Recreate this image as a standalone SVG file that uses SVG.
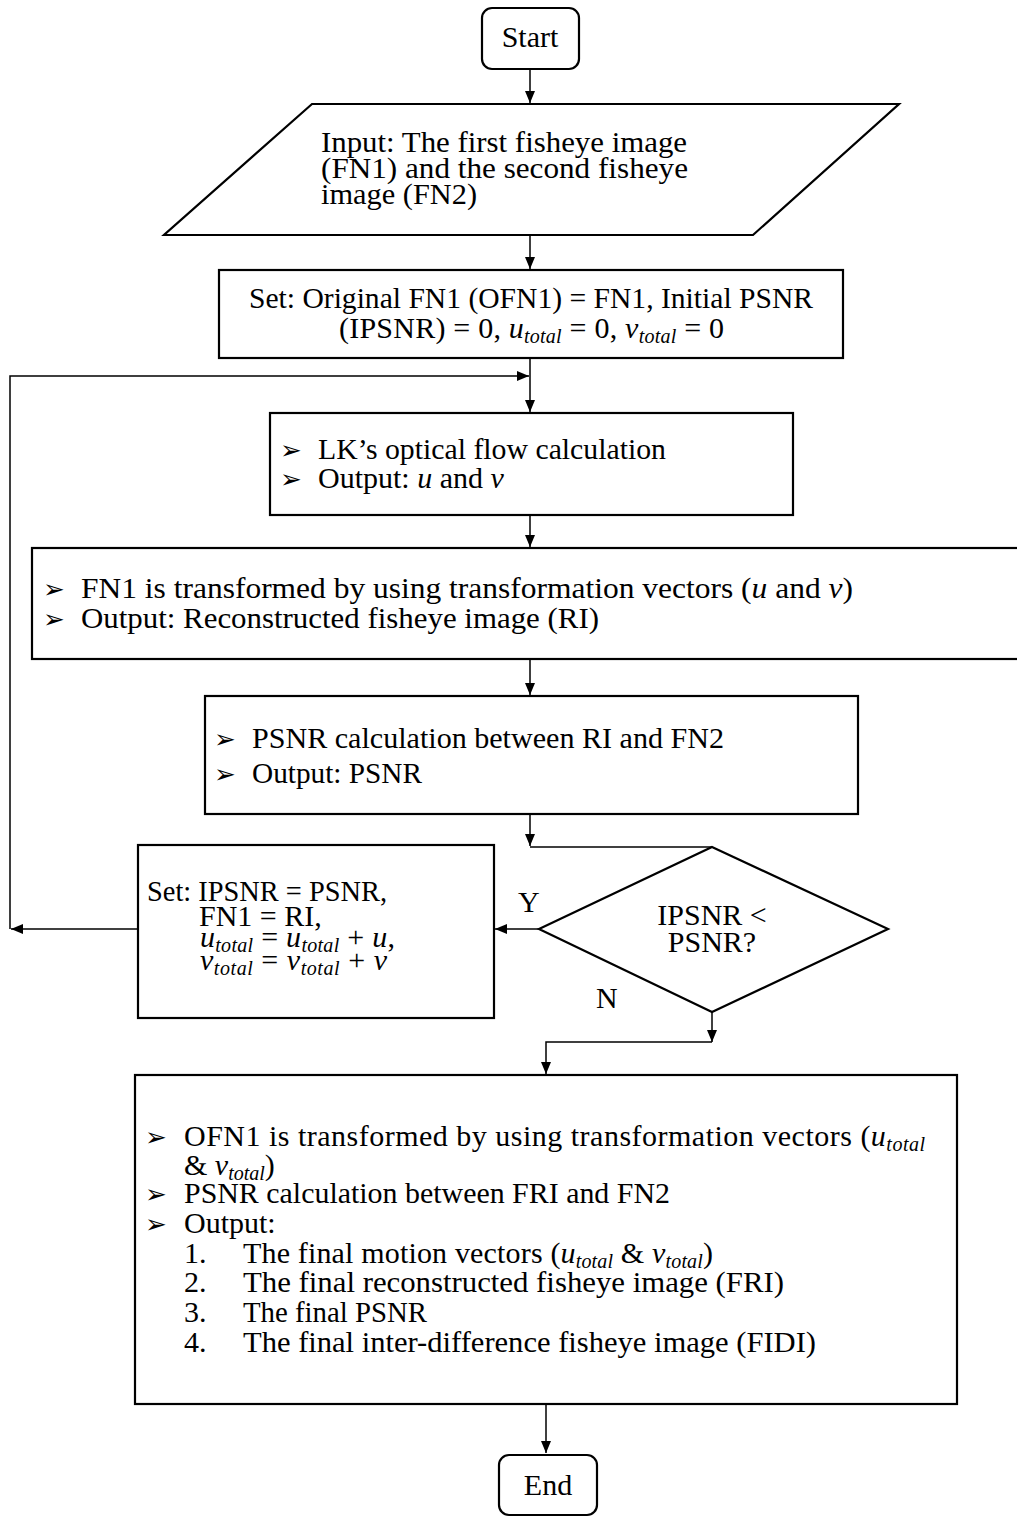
<svg xmlns="http://www.w3.org/2000/svg" width="1017" height="1517" viewBox="0 0 1017 1517">
<defs>
<marker id="ah" markerUnits="userSpaceOnUse" markerWidth="12" markerHeight="12" viewBox="0 0 12 12" refX="12" refY="6" orient="auto">
<path d="M0,1 L12,6 L0,11 Z" fill="#000"/>
</marker>
</defs>
<style>
.box{fill:#fff;stroke:#000;stroke-width:2.2}
.t{font-family:"Liberation Serif","Times New Roman",serif;font-size:30px;fill:#000}
.i{font-style:italic}
.sub{font-style:italic;font-size:20px}
.b{font-family:"DejaVu Sans",sans-serif;font-size:26px;fill:#000}
.c{fill:none;stroke:#000;stroke-width:1.5}
</style>
<rect width="1017" height="1517" fill="#fff"/>

<g id="connectors">
<path class="c" d="M530,70 V103" marker-end="url(#ah)"/>
<path class="c" d="M530,235 V269" marker-end="url(#ah)"/>
<path class="c" d="M530,358 V412" marker-end="url(#ah)"/>
<path class="c" d="M10,929 V376 H529" marker-end="url(#ah)"/>
<path class="c" d="M137,929 H11" marker-end="url(#ah)"/>
<path class="c" d="M530,515 V547" marker-end="url(#ah)"/>
<path class="c" d="M530,659 V695" marker-end="url(#ah)"/>
<path class="c" d="M530,814 V846"  marker-end="url(#ah)"/>
<path class="c" d="M530,847 H712"/>
<path class="c" d="M539,929 H495" marker-end="url(#ah)"/>
<path class="c" d="M712,1012 V1042" marker-end="url(#ah)"/>
<path class="c" d="M712,1042 H546 V1074" marker-end="url(#ah)"/>
<path class="c" d="M546,1404 V1453" marker-end="url(#ah)"/>
</g>

<g id="start">
<rect class="box" x="482" y="8" width="97" height="61" rx="10"/>
<text class="t" x="530" y="47" text-anchor="middle">Start</text>
</g>

<g id="input">
<polygon class="box" points="312,104 899,104 753,235 164,235"/>
<text class="t" x="321" y="152" textLength="366" lengthAdjust="spacingAndGlyphs">Input: The first fisheye image</text>
<text class="t" x="321" y="178" textLength="367" lengthAdjust="spacingAndGlyphs">(FN1) and the second fisheye</text>
<text class="t" x="321" y="204" textLength="156" lengthAdjust="spacingAndGlyphs">image (FN2)</text>
</g>

<g id="init">
<rect class="box" x="219" y="270" width="624" height="88"/>
<text class="t" x="531" y="308" text-anchor="middle" textLength="564" lengthAdjust="spacingAndGlyphs">Set: Original FN1 (OFN1) = FN1, Initial PSNR</text>
<text class="t" x="339" y="338" textLength="385" lengthAdjust="spacing">(IPSNR) = 0, <tspan class="i">u</tspan><tspan class="sub" dy="5">total</tspan><tspan dy="-5"> = 0, </tspan><tspan class="i">v</tspan><tspan class="sub" dy="5">total</tspan><tspan dy="-5"> = 0</tspan></text>
</g>

<g id="lk">
<rect class="box" x="270" y="413" width="523" height="102"/>
<text class="b" x="280" y="459">➢</text>
<text class="t" x="318" y="459" textLength="348" lengthAdjust="spacingAndGlyphs">LK’s optical flow calculation</text>
<text class="b" x="280" y="488">➢</text>
<text class="t" x="318" y="488">Output: <tspan class="i">u</tspan> and <tspan class="i">v</tspan></text>
</g>

<g id="transform">
<rect class="box" x="32" y="548" width="990" height="111"/>
<text class="b" x="43" y="598">➢</text>
<text class="t" x="81" y="598" textLength="772" lengthAdjust="spacingAndGlyphs">FN1 is transformed by using transformation vectors (<tspan class="i">u</tspan> and <tspan class="i">v</tspan>)</text>
<text class="b" x="43" y="628">➢</text>
<text class="t" x="81" y="628" textLength="518" lengthAdjust="spacingAndGlyphs">Output: Reconstructed fisheye image (RI)</text>
</g>

<g id="psnr">
<rect class="box" x="205" y="696" width="653" height="118"/>
<text class="b" x="214" y="748">➢</text>
<text class="t" x="252" y="748" textLength="472" lengthAdjust="spacingAndGlyphs">PSNR calculation between RI and FN2</text>
<text class="b" x="214" y="783">➢</text>
<text class="t" x="252" y="783" textLength="170" lengthAdjust="spacingAndGlyphs">Output: PSNR</text>
</g>

<g id="decision">
<polygon class="box" points="712,847 888,929 712,1012 539,929"/>
<text class="t" x="712" y="925" text-anchor="middle">IPSNR &lt;</text>
<text class="t" x="712" y="952" text-anchor="middle">PSNR?</text>
</g>

<text class="t" x="518" y="912">Y</text>
<text class="t" x="596" y="1008">N</text>

<g id="update">
<rect class="box" x="138" y="845" width="356" height="173"/>
<text class="t" x="147" y="901" textLength="240" lengthAdjust="spacingAndGlyphs">Set: IPSNR = PSNR,</text>
<text class="t" x="199" y="926">FN1 = RI,</text>
<text class="t" x="200" y="947" textLength="195" lengthAdjust="spacing"><tspan class="i">u</tspan><tspan class="sub" dy="5">total</tspan><tspan dy="-5"> = </tspan><tspan class="i">u</tspan><tspan class="sub" dy="5">total</tspan><tspan dy="-5"> + </tspan><tspan class="i">u</tspan>,</text>
<text class="t" x="200" y="970" textLength="187" lengthAdjust="spacing"><tspan class="i">v</tspan><tspan class="sub" dy="5">total</tspan><tspan dy="-5"> = </tspan><tspan class="i">v</tspan><tspan class="sub" dy="5">total</tspan><tspan dy="-5"> + </tspan><tspan class="i">v</tspan></text>
</g>

<g id="final">
<rect class="box" x="135" y="1075" width="822" height="329"/>
<text class="b" x="145" y="1146">➢</text>
<text class="t" x="184" y="1146" textLength="741" lengthAdjust="spacing">OFN1 is transformed by using transformation vectors (<tspan class="i">u</tspan><tspan class="sub" dy="5">total</tspan></text>
<text class="t" x="184" y="1175">&amp; <tspan class="i">v</tspan><tspan class="sub" dy="5">total</tspan><tspan dy="-5">)</tspan></text>
<text class="b" x="145" y="1203">➢</text>
<text class="t" x="184" y="1203" textLength="486" lengthAdjust="spacingAndGlyphs">PSNR calculation between FRI and FN2</text>
<text class="b" x="145" y="1233">➢</text>
<text class="t" x="184" y="1233">Output:</text>
<text class="t" x="184" y="1263">1.</text>
<text class="t" x="243" y="1263" textLength="470" lengthAdjust="spacing">The final motion vectors (<tspan class="i">u</tspan><tspan class="sub" dy="5">total</tspan><tspan dy="-5"> &amp; </tspan><tspan class="i">v</tspan><tspan class="sub" dy="5">total</tspan><tspan dy="-5">)</tspan></text>
<text class="t" x="184" y="1292">2.</text>
<text class="t" x="243" y="1292" textLength="541" lengthAdjust="spacingAndGlyphs">The final reconstructed fisheye image (FRI)</text>
<text class="t" x="184" y="1322">3.</text>
<text class="t" x="243" y="1322" textLength="184" lengthAdjust="spacingAndGlyphs">The final PSNR</text>
<text class="t" x="184" y="1352">4.</text>
<text class="t" x="243" y="1352" textLength="573" lengthAdjust="spacingAndGlyphs">The final inter-difference fisheye image (FIDI)</text>
</g>

<g id="end">
<rect class="box" x="499" y="1455" width="98" height="60" rx="10"/>
<text class="t" x="548" y="1495" text-anchor="middle">End</text>
</g>
</svg>
